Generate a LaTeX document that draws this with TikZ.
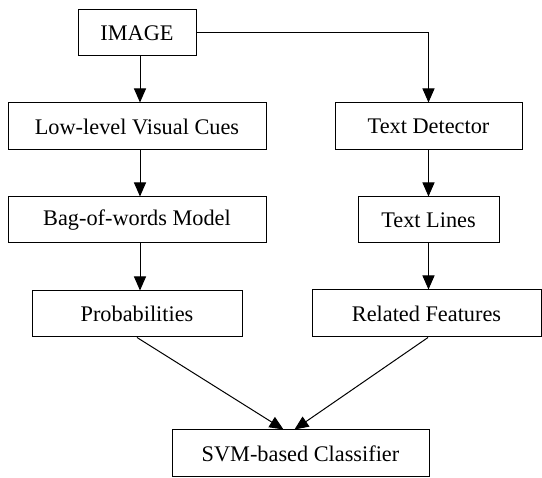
\documentclass[tikz,border=0pt]{standalone}
\usepackage{fontspec}
\setmainfont{Liberation Serif}
\usetikzlibrary{arrows.meta}
\begin{document}
\begin{tikzpicture}[x=1pt,y=-1pt,
  box/.style={draw,line width=1pt,inner sep=0pt,align=center,font=\fontsize{22.3}{26}\selectfont},
  arr/.style={line width=1pt,-{Triangle[length=14pt,width=12pt]}}]
\useasboundingbox (0,0) rectangle (542,478);
\node[box,minimum width=118pt,minimum height=46pt] (img) at (137,33) {IMAGE};
\node[box,minimum width=258pt,minimum height=47pt] (low) at (137,126.5) {Low-level Visual Cues};
\node[box,minimum width=187pt,minimum height=47pt] (td) at (428.5,126.5) {Text Detector};
\node[box,minimum width=258pt,minimum height=46pt] (bag) at (137,220) {Bag-of-words Model};
\node[box,minimum width=141pt,minimum height=46pt] (tl) at (428.5,220) {Text Lines};
\node[box,minimum width=210pt,minimum height=46pt] (prob) at (137,314) {Probabilities};
\node[box,minimum width=229pt,minimum height=47pt] (rf) at (426.5,313.5) {Related Features};
\node[box,minimum width=257pt,minimum height=47pt] (svm) at (300.5,453.5) {SVM-based Classifier};
\draw[arr] ([xshift=3pt]img.south) -- ([xshift=3pt]low.north);
\draw[arr] ([xshift=3pt]low.south) -- ([xshift=3pt]bag.north);
\draw[arr] ([xshift=3pt]bag.south) -- ([xshift=3pt]prob.north);
\draw[arr] (img.east) -| (td.north);
\draw[arr] (td.south) -- (tl.north);
\draw[arr] (tl.south) -- (tl.south |- rf.north);
\draw[arr] (prob.south) -- ([xshift=-17pt]svm.north);
\draw[arr] ([xshift=1.5pt]rf.south) -- ([xshift=-6pt]svm.north);
\end{tikzpicture}
\end{document}
